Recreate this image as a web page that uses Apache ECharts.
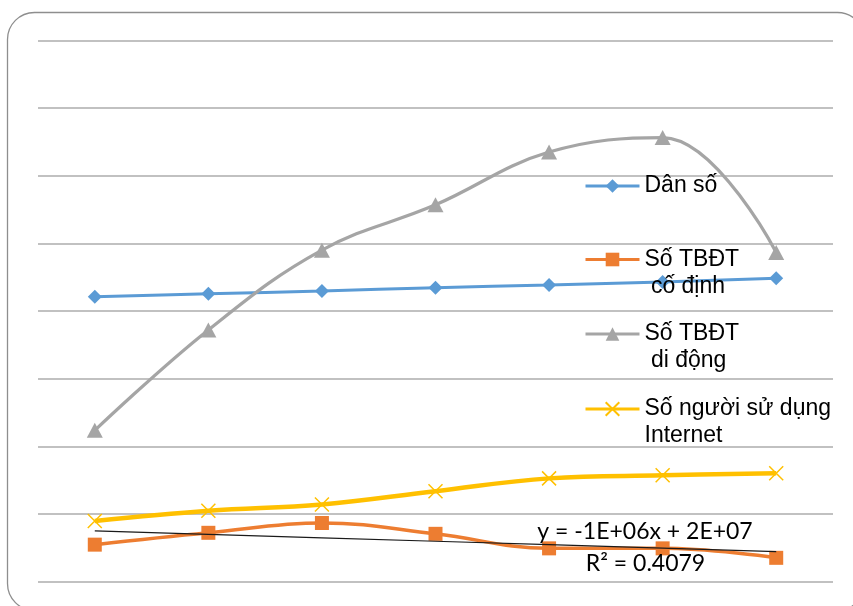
<!DOCTYPE html>
<html>
<head>
<meta charset="utf-8">
<script src="https://cdn.jsdelivr.net/npm/echarts@6/dist/echarts.min.js"></script>
<style>
html,body{margin:0;padding:0;background:#fff;}
#chart{width:853px;height:606px;}
</style>
</head>
<body>
<div id="chart"></div>
<script>
// Categories (years, not shown on the chart)
const categories = ['2007', '2008', '2009', '2010', '2011', '2012', '2013'];
// Series values (millions)
const danSo = [84.2, 85.1, 85.9, 86.9, 87.7, 88.6, 89.7];
const coDinh = [10.9, 14.4, 17.3, 14.1, 9.8, 9.8, 7.0];
const diDong = [44.7, 74.4, 98.0, 111.4, 127.0, 131.3, 97.3];
const internet = [17.9, 20.9, 22.8, 26.7, 30.5, 31.4, 32.0];
// Value axis ticks (hidden labels)
const yMin = 0, yMax = 160, yInterval = 20;
// Series names
const seriesNames = ['Dân số', 'Số TBĐT\n cố định', 'Số TBĐT\n di động', 'Số người sử dụng\nInternet'];
// Trendline label
const trendLabel = ['y = -1E+06x + 2E+07', 'R² = 0.4079'];

// Linear trendline (least squares) of the fixed-line series
function linearFit(values) {
  const n = values.length;
  let sx = 0, sy = 0, sxx = 0, sxy = 0;
  values.forEach((v, i) => { const x = i + 1; sx += x; sy += v; sxx += x * x; sxy += x * v; });
  const slope = (n * sxy - sx * sy) / (n * sxx - sx * sx);
  const intercept = (sy - slope * sx) / n;
  return values.map((v, i) => +(intercept + slope * (i + 1)).toFixed(3));
}
const trend = linearFit(coDinh);

const colors = ['#5B9BD5', '#ED7D31', '#A5A5A5', '#FFC000'];
const xPath = 'path://M0,0L10,10M10,0L0,10';

const chart = echarts.init(document.getElementById('chart'), null, { renderer: 'canvas' });

const legendCenters = [186, 259.5, 334, 409];
const LH = 27;
const legends = seriesNames.map((name, i) => {
  const multi = name.indexOf('\n') >= 0;
  return {
    data: [name],
    orient: 'vertical',
    left: 584,
    top: multi ? legendCenters[i] - LH * 1.5 : legendCenters[i] - LH / 2,
    padding: 0,
    itemGap: 0,
    itemWidth: 54,
    itemHeight: 17,
    selectedMode: false,
    formatter: (n) => (n.indexOf('\n') >= 0 ? '\n' + n : n),
    lineStyle: { width: 3 },
    textStyle: {
      fontFamily: 'Liberation Sans, Arial, sans-serif',
      fontSize: 23,
      color: '#000',
      lineHeight: LH
    }
  };
});

const option = {
  animation: false,
  backgroundColor: '#fff',
  grid: { left: 38, right: 20, top: 40.5, bottom: 24.5, containLabel: false },
  legend: legends,
  xAxis: {
    type: 'category',
    data: categories,
    boundaryGap: true,
    axisLine: { show: false },
    axisTick: { show: false },
    axisLabel: { show: false },
    splitLine: { show: false }
  },
  yAxis: {
    type: 'value',
    min: yMin,
    max: yMax,
    interval: yInterval,
    axisLine: { show: false },
    axisTick: { show: false },
    axisLabel: { show: false },
    splitLine: { show: true, lineStyle: { color: '#ADADAD', width: 1.5 } }
  },
  series: [
    {
      name: seriesNames[0], type: 'line', data: danSo, smooth: 0.4,
      symbol: 'diamond', symbolSize: 14,
      lineStyle: { color: colors[0], width: 3 },
      itemStyle: { color: colors[0] }
    },
    {
      name: seriesNames[1], type: 'line', data: coDinh, smooth: 0.4,
      symbol: 'rect', symbolSize: 14,
      lineStyle: { color: colors[1], width: 3.5 },
      itemStyle: { color: colors[1] }
    },
    {
      name: seriesNames[2], type: 'line', data: diDong, smooth: 0.4,
      symbol: 'triangle', symbolSize: [16, 15],
      lineStyle: { color: colors[2], width: 3.2 },
      itemStyle: { color: colors[2] }
    },
    {
      name: seriesNames[3], type: 'line', data: internet, smooth: 0.4,
      symbol: xPath, symbolSize: 14,
      lineStyle: { color: colors[3], width: 4.5 },
      itemStyle: { color: colors[3], borderColor: colors[3], borderWidth: 1.5 }
    },
    {
      name: 'trend', type: 'line', data: trend, smooth: false,
      symbol: 'none', silent: true,
      lineStyle: { color: '#1a1a1a', width: 1.2 },
      z: 5
    }
  ],
  graphic: [
    {
      type: 'rect', z: 0, silent: true,
      shape: { x: 7.5, y: 12.5, width: 857, height: 598, r: 27 },
      style: { fill: 'none', stroke: '#8E8E8E', lineWidth: 1.3 }
    },
    {
      type: 'text', z: 10, silent: true,
      style: { text: trendLabel[0], x: 645, y: 531.5, fill: '#000',
        font: '23px Lato, "Open Sans", sans-serif', textAlign: 'center', textVerticalAlign: 'middle' }
    },
    {
      type: 'text', z: 10, silent: true,
      style: { text: trendLabel[1], x: 645.5, y: 563.5, fill: '#000',
        font: '23px Lato, "Open Sans", sans-serif', textAlign: 'center', textVerticalAlign: 'middle' }
    }
  ]
};
chart.setOption(option);
</script>
</body>
</html>
